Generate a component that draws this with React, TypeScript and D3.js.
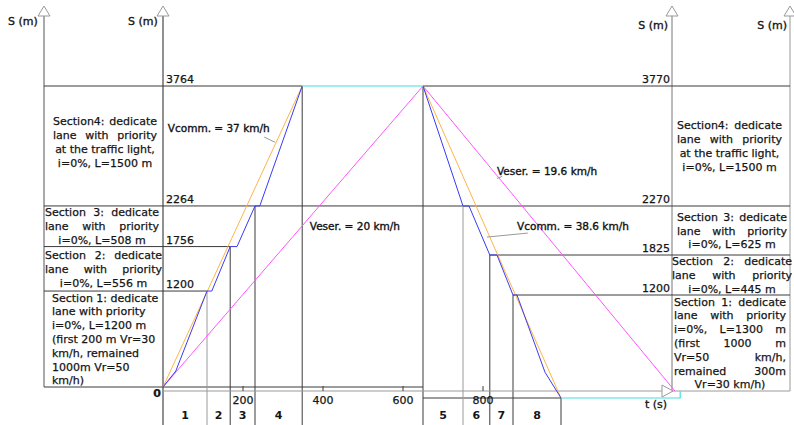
import * as d3 from "d3";

const W = 794;
const H = 425;

// time axis ticks (s)
const timeTicks = [200, 400, 600, 800];

// station boundaries (m) for the outbound (left) and return (right) trips
const outStations = [0, 1200, 1756, 2264, 3764];
const backStations = [0, 1200, 1825, 2270, 3770];

// section start/end times (s)
const outSectionTimes = [0, 110, 168, 230, 348];
const backSectionTimes = [650, 750, 817, 875, 995];
const outSectionNames = ["1", "2", "3", "4"];
const backSectionNames = ["5", "6", "7", "8"];

// trajectories [t (s), s (m)]
const outBus: [number, number][] = [
  [0, 0], [32, 200], [110, 1200], [122, 1200], [168, 1756],
  [185, 1756], [230, 2264], [242, 2264], [348, 3764],
];
const outComm: [number, number][] = [[0, 0], [348, 3764]];
const outEser: [number, number][] = [[0, 0], [650, 3764]];
const outLayover: [number, number][] = [[348, 3764], [650, 3764]];

const backBus: [number, number][] = [
  [650, 3770], [750, 2270], [765, 2270], [817, 1825], [835, 1825],
  [875, 1200], [885, 1200], [955, 300], [995, 0],
];
const backComm: [number, number][] = [[650, 3770], [995, 0]];
const backEser: [number, number][] = [[650, 3770], [1280, 80]];
const backLayover: [number, number][] = [[995, 0], [1293, 0], [1293, 80]];

// section descriptions
const leftBoxLines = [
  ["Section4: dedicate", "lane with priority", "at the traffic light,", "i=0%, L=1500 m"],
  ["Section 3: dedicate", "lane with priority", "i=0%, L=508 m"],
  ["Section 2: dedicate", "lane with priority", "i=0%, L=556 m"],
  ["Section 1: dedicate", "lane with priority", "i=0%, L=1200 m", "(first 200 m Vr=30", "km/h, remained", "1000m Vr=50", "km/h)"],
];
const rightBoxLines = [
  ["Section4: dedicate", "lane with priority", "at the traffic light,", "i=0%, L=1500 m"],
  ["Section 3: dedicate", "lane with priority", "i=0%, L=625 m"],
  ["Section 2: dedicate", "lane with priority", "i=0%, L=445 m"],
  ["Section 1: dedicate", "lane with priority", "i=0%, L=1300 m", "(first 1000 m", "Vr=50 km/h,", "remained 300m", "Vr=30 km/h)"],
];

const FONT = "'DejaVu Sans', Verdana, sans-serif";
const C_BUS = "#3b3bf2";
const C_COMM = "#ffb449";
const C_ESER = "#ff55ff";
const C_LAY = "#44dde0";
const C_DARK = "#3a3a3a";
const C_GRAY = "#9a9a9a";
const C_TEXT = "#151515";

let ctx: CanvasRenderingContext2D | null = null;
function measure(txt: string, size = 11) {
  if (!ctx) ctx = document.createElement("canvas").getContext("2d");
  if (!ctx) return txt.length * size * 0.6;
  ctx.font = `${size}px 'DejaVu Sans'`;
  return ctx.measureText(txt).width;
}

type Align = "j" | "c" | "l";

function BoxText({ lines, x0, x1, yTop, yBot, align, dy = 0 }: {
  lines: string[]; x0: number; x1: number; yTop: number; yBot: number; align: Align[]; dy?: number;
}) {
  const lh = 13.8;
  const mid = (yTop + yBot) / 2 + dy;
  const out: JSX.Element[] = [];
  lines.forEach((line, i) => {
    const y = mid + (i - (lines.length - 1) / 2) * lh + 4;
    const a = align[i] ?? "c";
    if (a === "l") {
      out.push(<text key={i} x={x0} y={y}>{line}</text>);
    } else if (a === "c") {
      out.push(<text key={i} x={(x0 + x1) / 2} y={y} textAnchor="middle">{line}</text>);
    } else {
      // spread words over the box width, like justified text
      const words = line.split(" ");
      const ws = words.map((w) => measure(w));
      const gap = (x1 - x0 - d3.sum(ws)) / Math.max(1, words.length - 1);
      let cx = x0;
      words.forEach((w, k) => {
        out.push(<text key={`${i}-${k}`} x={cx} y={y}>{w}</text>);
        cx += ws[k] + gap;
      });
    }
  });
  return <g>{out}</g>;
}

export default function App() {
  const x = d3.scaleLinear().domain([0, 800]).range([163, 483]);
  const yL = d3.scaleLinear().domain([0, 3764]).range([387, 86]);
  const yR = d3.scaleLinear().domain(backStations).range([398, 295, 255, 206, 86]);

  const xLeftPanel = 44;
  const xRightAxis = 672;
  const xRightPanel = 790;
  const yAxisT = 391;
  const arrowTop = 6;

  const lineL = d3.line<[number, number]>().x((d) => x(d[0])).y((d) => yL(d[1]));
  const lineR = d3.line<[number, number]>().x((d) => x(d[0])).y((d) => yR(d[1]));

  const upArrow = (ax: number) =>
    `M${ax - 6},${arrowTop + 10} L${ax},${arrowTop} L${ax + 6},${arrowTop + 10} Z`;

  const leftLayout = [
    { x0: 53, x1: 157, align: ["j", "j", "c", "c"] as Align[], dy: -4 },
    { x0: 45, x1: 159, align: ["j", "j", "c"] as Align[], dy: 0 },
    { x0: 45, x1: 162, align: ["j", "j", "c"] as Align[], dy: 0 },
    { x0: 52, x1: 160, align: ["l", "l", "l", "l", "l", "l", "l"] as Align[], dy: 0 },
  ];
  const rightLayout = [
    { x0: 677, x1: 782, align: ["j", "j", "c", "c"] as Align[], dy: 0 },
    { x0: 677, x1: 787, align: ["j", "j", "c"] as Align[], dy: 0 },
    { x0: 672, x1: 792, align: ["j", "j", "c"] as Align[], dy: 0 },
    { x0: 674, x1: 786, align: ["j", "j", "j", "j", "j", "j", "c"] as Align[], dy: 0 },
  ];

  // box edges top->bottom
  const leftEdges = [...outStations].reverse();
  const rightEdges = [...backStations].reverse();

  return (
    <svg
      width={W}
      height={H}
      style={{ position: "absolute", left: 0, top: 0, background: "#fff" }}
      fontFamily={FONT}
      fontSize={11}
    >
      {/* vertical axes with open arrows */}
      <g fill="#fff" strokeWidth={1}>
        <line x1={xLeftPanel} x2={xLeftPanel} y1={arrowTop + 10} y2={yL(0)} stroke="#555" />
        <line x1={x(0)} x2={x(0)} y1={arrowTop + 10} y2={H} stroke="#222" />
        <line x1={xRightAxis} x2={xRightAxis} y1={arrowTop + 10} y2={yAxisT} stroke="#777" />
        <line x1={xRightPanel} x2={xRightPanel} y1={arrowTop + 10} y2={yAxisT} stroke="#999" />
        {[xLeftPanel, x(0), xRightAxis, xRightPanel].map((ax, i) => (
          <path key={i} d={upArrow(ax)} stroke="#999" />
        ))}
      </g>

      {/* horizontal station lines */}
      <g stroke={C_DARK} strokeWidth={1}>
        <line x1={xLeftPanel} x2={x(outSectionTimes[4])} y1={yL(3764)} y2={yL(3764)} />
        <line x1={x(650)} x2={xRightPanel} y1={yR(3770)} y2={yR(3770)} />
        <line x1={xLeftPanel} x2={x(650)} y1={yL(2264)} y2={yL(2264)} />
        <line x1={x(650)} x2={xRightPanel} y1={yR(2270)} y2={yR(2270)} />
        <line x1={xLeftPanel} x2={x(outSectionTimes[2])} y1={yL(1756)} y2={yL(1756)} />
        <line x1={xLeftPanel} x2={x(outSectionTimes[1])} y1={yL(1200)} y2={yL(1200)} />
        <line x1={xLeftPanel} x2={x(650)} y1={yL(0)} y2={yL(0)} />
        <line x1={x(backSectionTimes[2])} x2={xRightPanel} y1={yR(1825)} y2={yR(1825)} />
        <line x1={x(backSectionTimes[3])} x2={xRightPanel} y1={yR(1200)} y2={yR(1200)} />
        <line x1={x(650)} x2={x(backSectionTimes[4])} y1={yR(0)} y2={yR(0)} />
      </g>

      {/* section vertical lines */}
      <g strokeWidth={1}>
        <line x1={x(110)} x2={x(110)} y1={yL(1200)} y2={H} stroke={C_GRAY} />
        <line x1={x(168)} x2={x(168)} y1={yL(1756)} y2={H} stroke={C_DARK} />
        <line x1={x(230)} x2={x(230)} y1={yL(2264)} y2={H} stroke={C_DARK} />
        <line x1={x(348)} x2={x(348)} y1={yL(3764)} y2={H} stroke={C_DARK} />
        <line x1={x(650)} x2={x(650)} y1={yR(3770)} y2={H} stroke={C_DARK} />
        <line x1={x(750)} x2={x(750)} y1={yR(2270)} y2={H} stroke={C_GRAY} />
        <line x1={x(817)} x2={x(817)} y1={yR(1825)} y2={H} stroke={C_DARK} />
        <line x1={x(875)} x2={x(875)} y1={yR(1200)} y2={H} stroke={C_DARK} />
        <line x1={x(995)} x2={x(995)} y1={yR(0)} y2={H} stroke={C_DARK} />
      </g>

      {/* time axis */}
      <g>
        <line x1={x(0)} x2={xRightPanel} y1={yAxisT} y2={yAxisT} stroke={C_GRAY} />
        <path
          d={`M${xRightAxis - 10},${yAxisT - 6} L${xRightAxis + 1},${yAxisT} L${xRightAxis - 10},${yAxisT + 6} Z`}
          fill="#fff"
          stroke="#999"
        />
        {timeTicks.map((t) => (
          <g key={t}>
            <line x1={x(t)} x2={x(t)} y1={yAxisT - 5} y2={yAxisT} stroke={C_DARK} />
            <text x={x(t)} y={yAxisT + 13} textAnchor="middle" fill={C_TEXT} stroke={C_TEXT} strokeWidth={0.25}>{t}</text>
          </g>
        ))}
        <text x={656} y={yAxisT + 17} textAnchor="middle" fill={C_TEXT} stroke={C_TEXT} strokeWidth={0.3}>t (s)</text>
      </g>

      {/* trajectories */}
      <g fill="none" strokeWidth={1}>
        <path d={lineL(outEser)!} stroke={C_ESER} />
        <path d={lineR(backEser)!} stroke={C_ESER} />
        <path d={lineL(outComm)!} stroke={C_COMM} />
        <path d={lineR(backComm)!} stroke={C_COMM} />
        <path d={lineL(outBus)!} stroke={C_BUS} />
        <path d={lineR(backBus)!} stroke={C_BUS} />
        <path d={lineL(outLayover)!} stroke={C_LAY} strokeWidth={1.2} />
        <path d={lineR(backLayover)!} stroke={C_LAY} strokeWidth={1.2} />
      </g>

      {/* station value labels */}
      <g fill={C_TEXT} stroke={C_TEXT} strokeWidth={0.25}>
        {outStations.slice(1).map((s) => (
          <text key={s} x={x(0) + 3} y={yL(s) - 3}>{s}</text>
        ))}
        {backStations.slice(1).map((s) => (
          <text key={s} x={xRightAxis - 2} y={yR(s) - 3} textAnchor="end">{s}</text>
        ))}
        <text x={x(0) - 2} y={yL(0) + 10} textAnchor="end" fontWeight="bold">0</text>
      </g>

      {/* axis titles */}
      <g fill={C_TEXT} stroke={C_TEXT} strokeWidth={0.35}>
        <text x={8} y={25}>S (m)</text>
        <text x={128} y={25}>S (m)</text>
        <text x={668} y={29} textAnchor="end">S (m)</text>
        <text x={787} y={29} textAnchor="end">S (m)</text>
      </g>

      {/* section numbers */}
      <g fontWeight="bold" fill={C_TEXT} textAnchor="middle">
        {outSectionNames.map((n, i) => (
          <text key={n} x={(x(outSectionTimes[i]) + x(outSectionTimes[i + 1])) / 2} y={419}>{n}</text>
        ))}
        {backSectionNames.map((n, i) => (
          <text key={n} x={(x(backSectionTimes[i]) + x(backSectionTimes[i + 1])) / 2} y={419}>{n}</text>
        ))}
      </g>

      {/* speed annotations */}
      <g fill="#111" fontSize={10.5}>
        <g stroke="#111" strokeWidth={0.35}>
          <text x={x(12)} y={yL(3190)}>Vcomm. = 37 km/h</text>
          <text x={x(367)} y={yL(1962)}>Veser. = 20 km/h</text>
          <text x={x(835)} y={yR(2657)}>Veser. = 19.6 km/h</text>
          <text x={x(885)} y={yR(2052)}>Vcomm. = 38.6 km/h</text>
        </g>
        <line x1={x(253)} y1={yL(3125)} x2={x(280)} y2={yL(3061)} stroke={C_GRAY} />
        <line x1={x(835)} y1={yR(2615)} x2={x(848)} y2={yR(2640)} stroke={C_GRAY} />
        <line x1={x(810)} y1={yR(1988)} x2={x(912)} y2={yR(2024)} stroke={C_GRAY} />
      </g>

      {/* section descriptions */}
      <g fill={C_TEXT} stroke={C_TEXT} strokeWidth={0.25}>
        {leftBoxLines.map((lines, i) => (
          <BoxText
            key={`l${i}`}
            lines={lines}
            x0={leftLayout[i].x0}
            x1={leftLayout[i].x1}
            yTop={yL(leftEdges[i])}
            yBot={yL(leftEdges[i + 1])}
            align={leftLayout[i].align}
            dy={leftLayout[i].dy}
          />
        ))}
        {rightBoxLines.map((lines, i) => (
          <BoxText
            key={`r${i}`}
            lines={lines}
            x0={rightLayout[i].x0}
            x1={rightLayout[i].x1}
            yTop={yR(rightEdges[i])}
            yBot={i === 3 ? yAxisT : yR(rightEdges[i + 1])}
            align={rightLayout[i].align}
            dy={rightLayout[i].dy}
          />
        ))}
      </g>
    </svg>
  );
}
